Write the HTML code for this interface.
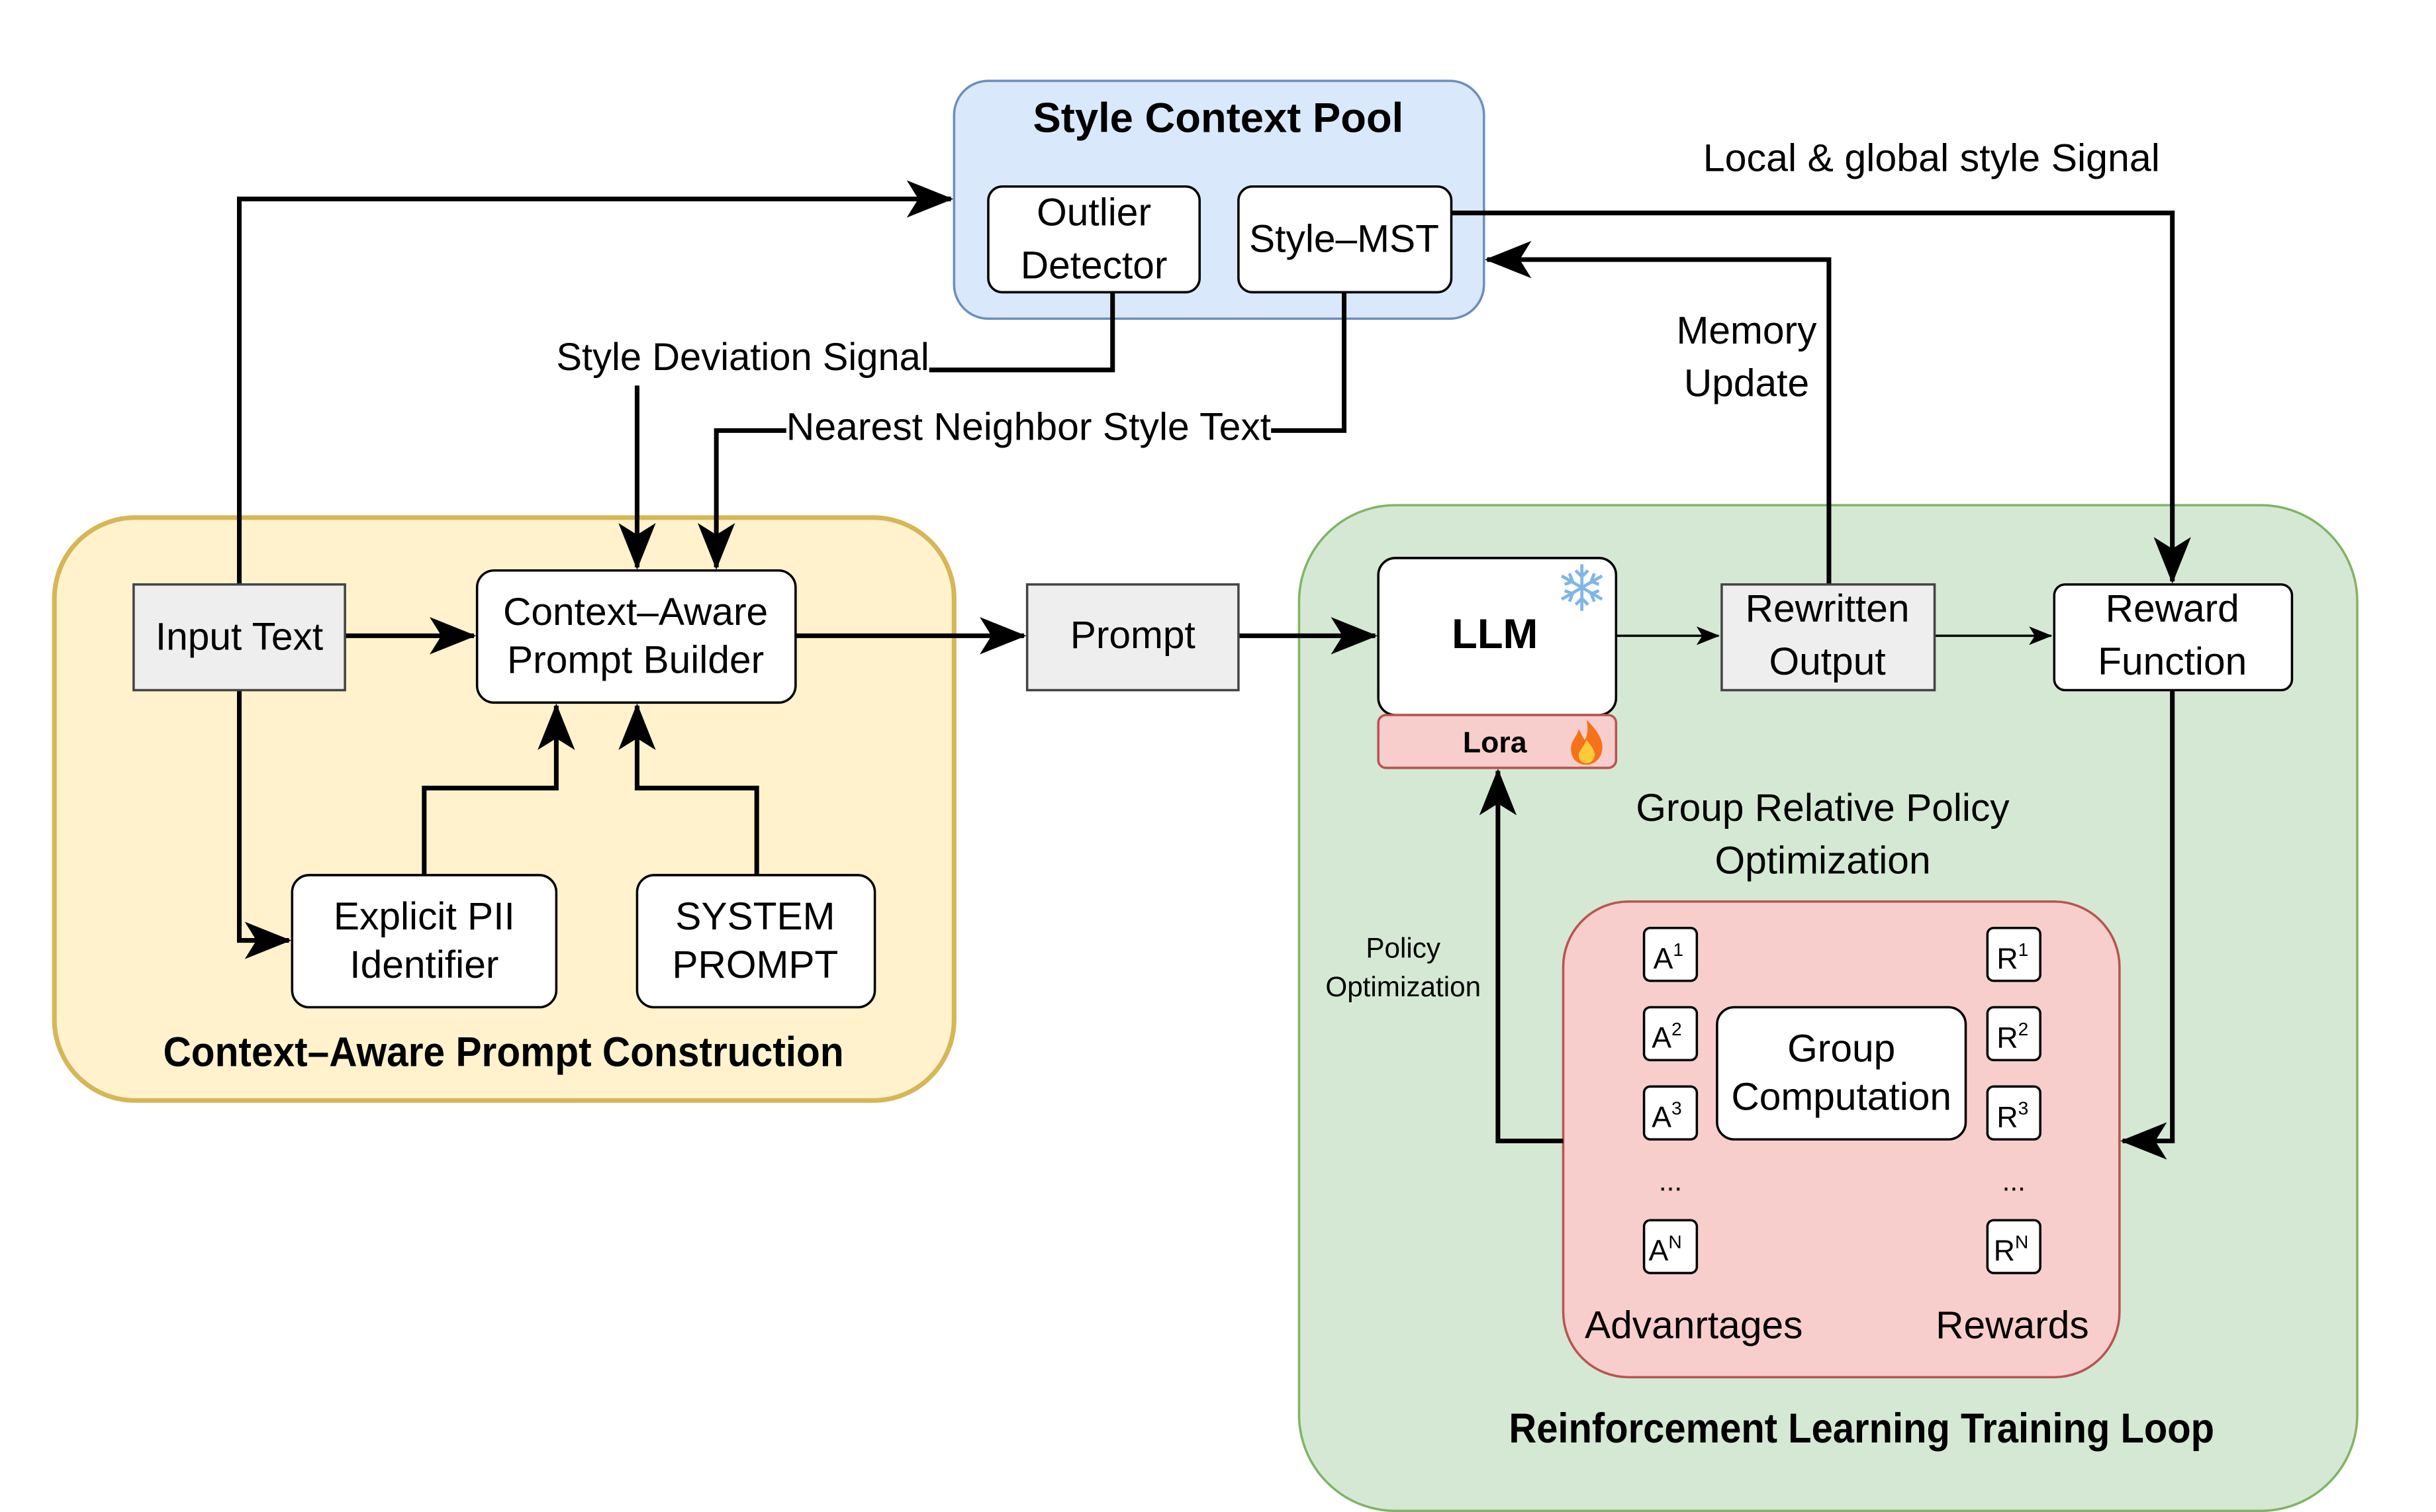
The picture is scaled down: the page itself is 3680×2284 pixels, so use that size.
<!DOCTYPE html>
<html><head><meta charset="utf-8"><style>html,body{margin:0;padding:0;background:#fff}svg{display:block}</style></head><body>
<svg xmlns="http://www.w3.org/2000/svg" width="3680" height="2284" viewBox="0 0 1552 963" preserveAspectRatio="none" font-family="'Liberation Sans Narrow','Liberation Sans',sans-serif">
<defs>
<marker id="b" viewBox="0 0 20 16" refX="19" refY="8" markerWidth="10" markerHeight="8" orient="auto"><path d="M0,0 L20,8 L0,16 L5,8 Z" fill="#000"/></marker>
</defs>
<rect width="1552" height="963" fill="#fff"/>
<g transform="scale(0.99)">
<!-- containers -->
<rect x="614" y="52" width="341" height="153" rx="22" fill="#dae8fc" stroke="#6c8ebf" stroke-width="1.5"/>
<rect x="35" y="333" width="579" height="375" rx="52" fill="#fff2cc" stroke="#d6b656" stroke-width="3"/>
<rect x="836" y="325" width="681" height="647" rx="62" fill="#d5e8d4" stroke="#82b366" stroke-width="1.5"/>
<rect x="1006" y="580" width="358" height="306" rx="42" fill="#f8cecc" stroke="#b85450" stroke-width="1.5"/>

<g fill="none" stroke="#000" stroke-width="3">
<path d="M154,376 V128 H612" marker-end="url(#b)"/>
<path d="M154,444 V605 H186" marker-end="url(#b)"/>
<path d="M222,409 H305" marker-end="url(#b)"/>
<path d="M716,188 V238 H598"/>
<path d="M410,248 V365" marker-end="url(#b)"/>
<path d="M865,188 V277 H818"/>
<path d="M506,277 H461 V365" marker-end="url(#b)"/>
<path d="M273,563 V507 H358 V454" marker-end="url(#b)"/>
<path d="M487,563 V507 H410 V454" marker-end="url(#b)"/>
<path d="M512,409 H659" marker-end="url(#b)"/>
<path d="M797,409 H885" marker-end="url(#b)"/>
<path d="M1177,376 V167 H957" marker-end="url(#b)"/>
<path d="M934,137 H1398 V374" marker-end="url(#b)"/>
<path d="M1398,444 V734 H1366" marker-end="url(#b)"/>
<path d="M1006,734 H964 V496" marker-end="url(#b)"/>
</g>
<g fill="none" stroke="#000" stroke-width="1.5">
<path d="M1040,409 H1106" marker-end="url(#b)"/>
<path d="M1245,409 H1320" marker-end="url(#b)"/>
</g>

<!-- boxes -->
<g stroke="#000" stroke-width="1.5" fill="#fff">
<rect x="636" y="120" width="136" height="68" rx="9"/>
<rect x="797" y="120" width="137" height="68" rx="9"/>
<rect x="307" y="367" width="205" height="85" rx="11"/>
<rect x="188" y="563" width="170" height="85" rx="11"/>
<rect x="410" y="563" width="153" height="85" rx="11"/>
<rect x="887" y="359" width="153" height="101" rx="11"/>
<rect x="1322" y="376" width="153" height="68" rx="7"/>
<rect x="1105" y="648" width="160" height="85" rx="11"/>
<rect x="1058" y="597" width="34" height="34" rx="4"/>
<rect x="1058" y="648" width="34" height="34" rx="4"/>
<rect x="1058" y="699" width="34" height="34" rx="4"/>
<rect x="1058" y="785" width="34" height="34" rx="4"/>
<rect x="1279" y="597" width="34" height="34" rx="4"/>
<rect x="1279" y="648" width="34" height="34" rx="4"/>
<rect x="1279" y="699" width="34" height="34" rx="4"/>
<rect x="1279" y="785" width="34" height="34" rx="4"/>
</g>
<g stroke="#444" stroke-width="1.5" fill="#eeeeee">
<rect x="86" y="376" width="136" height="68"/>
<rect x="661" y="376" width="136" height="68"/>
<rect x="1108" y="376" width="137" height="68"/>
</g>
<rect x="887" y="460" width="153" height="34" rx="5" fill="#f8cecc" stroke="#b85450" stroke-width="1.5"/>

<!-- text -->
<g font-size="25" text-anchor="middle" fill="#000">
<text x="784" y="85" font-weight="bold" font-size="27">Style Context Pool</text>
<text x="704" y="145">Outlier</text><text x="704" y="179">Detector</text>
<text x="865" y="162">Style–MST</text>
<text x="478" y="238" textLength="240" lengthAdjust="spacingAndGlyphs">Style Deviation Signal</text>
<text x="662" y="283" textLength="312" lengthAdjust="spacingAndGlyphs">Nearest Neighbor Style Text</text>
<text x="1243" y="110" textLength="294" lengthAdjust="spacingAndGlyphs">Local &amp; global style Signal</text>
<text x="1124" y="221">Memory</text><text x="1124" y="255">Update</text>
<text x="154" y="418">Input Text</text>
<text x="409" y="402">Context–Aware</text><text x="409" y="433">Prompt Builder</text>
<text x="273" y="598">Explicit PII</text><text x="273" y="629">Identifier</text>
<text x="486" y="598">SYSTEM</text><text x="486" y="629">PROMPT</text>
<text x="324" y="686" font-weight="bold" font-size="27" textLength="438" lengthAdjust="spacingAndGlyphs">Context–Aware Prompt Construction</text>
<text x="729" y="417">Prompt</text>
<text x="962" y="417" font-weight="bold" font-size="27">LLM</text>
<text x="962" y="484" font-weight="bold" font-size="19">Lora</text>
<text x="1176" y="400">Rewritten</text><text x="1176" y="434">Output</text>
<text x="1398" y="400">Reward</text><text x="1398" y="434">Function</text>
<text x="1173" y="528">Group Relative Policy</text><text x="1173" y="562">Optimization</text>
<text x="903" y="616" font-size="18">Policy</text><text x="903" y="641" font-size="18">Optimization</text>
<text x="1185" y="683">Group</text><text x="1185" y="714">Computation</text>
<text x="1090" y="861">Advanrtages</text><text x="1295" y="861">Rewards</text>
<text x="1198" y="928" font-weight="bold" font-size="27" textLength="454" lengthAdjust="spacingAndGlyphs">Reinforcement Learning Training Loop</text>
<text x="1075" y="766" font-size="18">...</text><text x="1296" y="766" font-size="18">...</text>
</g>
<g font-size="19" fill="#000">
<text x="1064" y="623">A<tspan font-size="12" dy="-8">1</tspan></text>
<text x="1063" y="674">A<tspan font-size="12" dy="-8">2</tspan></text>
<text x="1063" y="725">A<tspan font-size="12" dy="-8">3</tspan></text>
<text x="1061" y="811">A<tspan font-size="12" dy="-8">N</tspan></text>
<text x="1285" y="623">R<tspan font-size="12" dy="-8">1</tspan></text>
<text x="1285" y="674">R<tspan font-size="12" dy="-8">2</tspan></text>
<text x="1285" y="725">R<tspan font-size="12" dy="-8">3</tspan></text>
<text x="1283" y="811">R<tspan font-size="12" dy="-8">N</tspan></text>
</g>
<!-- snowflake -->
<g stroke="#7fb6e6" stroke-width="2" fill="none" transform="translate(1018,378)">
<path d="M0,-15 V15 M-13,-7.5 L13,7.5 M-13,7.5 L13,-7.5"/>
<path d="M-4,-11 L0,-7 L4,-11 M-4,11 L0,7 L4,11 M-11,-2 L-6,-4 L-8,-9 M11,2 L6,4 L8,9 M-11,2 L-6,4 L-8,9 M11,-2 L6,-4 L8,-9"/>
</g>
<!-- fire -->
<g transform="translate(1021,478)">
<path d="M0,-15 C8,-7 11,-1 10,5 C9,11 4,14 0,14 C-6,14 -10,10 -10,4 C-10,-2 -6,-4 -5,-9 C-3,-5 -2,-3 -1,-2 C1,-6 1,-10 0,-15 Z" fill="#f5721b"/>
<path d="M0,-2 C4,3 6,6 5,9 C4,12 2,13 0,13 C-3,13 -5,11 -5,8 C-5,5 -2,3 0,-2 Z" fill="#ffc93c"/>
</g>
</g>
</svg>
</body></html>
